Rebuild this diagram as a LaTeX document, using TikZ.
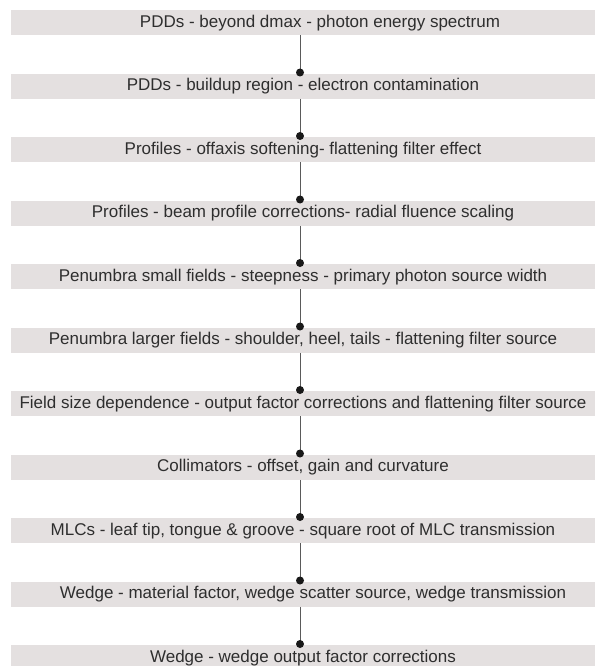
\documentclass[tikz,border=0pt]{standalone}
\usepackage{fontspec}
\setmainfont{Liberation Sans}
\definecolor{boxgray}{HTML}{E4E0E0}
\definecolor{txtgray}{HTML}{2E2E2E}
\definecolor{linegray}{HTML}{5A5A5A}
\tikzset{
  bar/.style={fill=boxgray, draw=none, minimum width=584pt, minimum height=25pt,
    inner sep=0pt, text=txtgray, font=\fontsize{17pt}{19pt}\selectfont, anchor=north},
  conn/.style={draw=linegray, line width=1pt},
  enddot/.style={circle, fill=black!90, inner sep=0pt, minimum size=8pt}
}
\begin{document}
\begin{tikzpicture}[x=1pt,y=1pt]
\useasboundingbox (0,0) rectangle (597,-666);
\node[bar] (b1)  at (303,-10)    {\hspace*{34pt}PDDs - beyond dmax - photon energy spectrum};
\node[bar] (b2)  at (303,-73.5)  {PDDs - buildup region - electron contamination};
\node[bar] (b3)  at (303,-137)   {Profiles - offaxis softening- flattening filter effect};
\node[bar] (b4)  at (303,-200.5) {Profiles - beam profile corrections- radial fluence scaling};
\node[bar] (b5)  at (303,-264)   {Penumbra small fields - steepness - primary photon source width};
\node[bar] (b6)  at (303,-327.5) {Penumbra larger fields - shoulder, heel, tails - flattening filter source};
\node[bar] (b7)  at (303,-391)   {Field size dependence - output factor corrections and flattening filter source};
\node[bar] (b8)  at (303,-454.5) {Collimators - offset, gain and curvature};
\node[bar] (b9)  at (303,-518)   {MLCs - leaf tip, tongue \& groove - square root of MLC transmission};
\node[bar] (b10) at (303,-581.5) {\hspace*{20pt}Wedge - material factor, wedge scatter source, wedge transmission};
\node[bar] (b11) at (303,-645)   {Wedge - wedge output factor corrections};
\foreach \a/\b in {b1/b2,b2/b3,b3/b4,b4/b5,b5/b6,b6/b7,b7/b8,b8/b9,b9/b10,b10/b11}{
  \draw[conn] ([xshift=-3pt]\a.south) -- ([xshift=-3pt,yshift=1pt]\b.north) node[enddot]{};
}
\end{tikzpicture}
\end{document}
